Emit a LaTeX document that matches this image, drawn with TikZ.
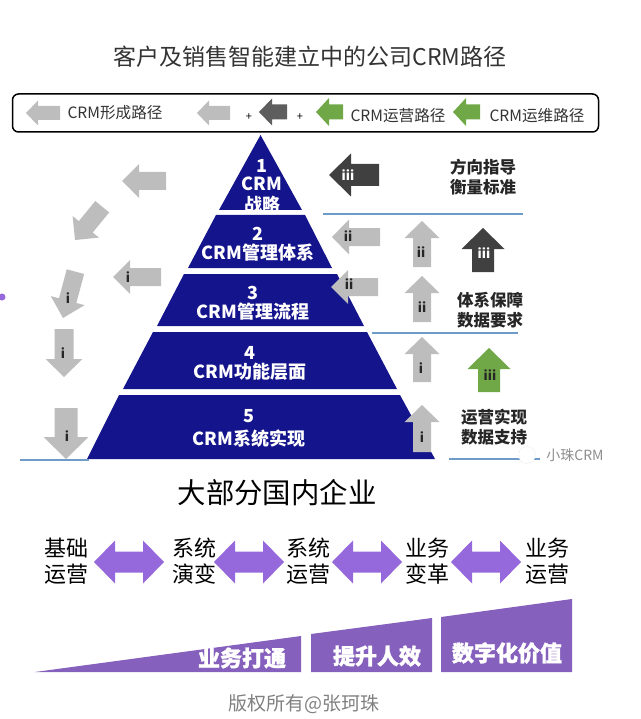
\documentclass[tikz,border=0pt]{standalone}
\usepackage{fontspec}
\setmainfont{Noto Sans CJK SC}
\usetikzlibrary{positioning}
\definecolor{navytier}{HTML}{14148C}
\definecolor{arrgray}{HTML}{BDBDBD}
\definecolor{arrdark}{HTML}{404040}
\definecolor{arrmid}{HTML}{5E5E5E}
\definecolor{arrgreen}{HTML}{70A848}
\definecolor{linkblue}{HTML}{6F9BC8}
\definecolor{violet1}{HTML}{9568DC}
\definecolor{violet2}{HTML}{8560BC}
\tikzset{
  tier/.style={fill=navytier},
  tiertext/.style={text=white,font=\fontsize{18}{18}\selectfont\bfseries,align=center,inner sep=0pt},
  pics/blockarr/.style args={#1,#2,#3,#4}{
    code={
      \path [pic actions] (0,0) -- (#4,{#2/2}) -- (#4,{#3/2}) -- (#1,{#3/2})
        -- (#1,{-#3/2}) -- (#4,{-#3/2}) -- (#4,{-#2/2}) -- cycle;
    }
  },
  pics/dblarr/.style={
    code={
      \path [pic actions] (-35,0) -- (-14,-21.5) -- (-14,-10.5) -- (14,-10.5) -- (14,-21.5) -- (35,0)
        -- (14,21.5) -- (14,10.5) -- (-14,10.5) -- (-14,21.5) -- cycle;
    }
  },
  grayarr/.style={fill=arrgray},
  darkarr/.style={fill=arrdark},
  midarr/.style={fill=arrmid},
  greenarr/.style={fill=arrgreen},
  arrtext/.style={inner sep=0pt,text=black!85,font=\fontsize{13}{13}\selectfont\bfseries},
  striptext/.style={inner sep=0pt,text=black!80,font=\fontsize{15.6}{16}\selectfont},
  sidetext/.style={inner sep=0pt,align=center,text=black!85,font=\fontsize{16.5}{20}\selectfont\bfseries},
  steptext/.style={inner sep=0pt,align=center,font=\fontsize{22}{26}\selectfont},
  bartext/.style={inner sep=0pt,text=white,font=\fontsize{22}{22}\selectfont\bfseries\addfontfeature{FakeBold=1.2}},
  rule/.style={linkblue,line width=2pt},
  wedge/.style={fill=violet2}
}
\begin{document}
\begin{tikzpicture}[x=1pt,y=-1pt]
  \useasboundingbox (0,0) rectangle (640,719);

  \node [inner sep=0pt,text=black!80,font=\fontsize{23}{23}\selectfont] (title) at (310,57) {客户及销售智能建立中的公司CRM路径};
  \node [draw=black,line width=1.5pt,rounded corners=6pt,minimum width=586pt,minimum height=38pt,inner sep=0pt] (strip) at (305.5,113) {};

  \pic [grayarr] at (26,113) {blockarr={34,25,14,12}};
  \node [striptext] (s1t) at (115,113) {CRM形成路径};
  \pic [grayarr] at (197,113) {blockarr={33,25,14,12}};
  \node [inner sep=0pt,font=\fontsize{11}{11}\selectfont] (plus1) at (249,117) {+};
  \pic [midarr] at (259,112) {blockarr={28,27,15,13}};
  \node [inner sep=0pt,font=\fontsize{11}{11}\selectfont] (plus2) at (300,117) {+};
  \pic [greenarr] at (316,112) {blockarr={27,28,15,13}};
  \node [striptext] (s4t) at (398,116) {CRM运营路径};
  \pic [greenarr] at (453,112) {blockarr={27,28,15,13}};
  \node [striptext] (s5t) at (537,116) {CRM运维路径};

  % pyramid
  \fill [tier] (260.5,135) -- (302,210) -- (219,210) -- cycle;
  \fill [tier] (216,215) -- (305,215) -- (332,268) -- (188,268) -- cycle;
  \fill [tier] (184,274) -- (337,274) -- (364,326) -- (157,326) -- cycle;
  \fill [tier] (153,332) -- (367,332) -- (397,389) -- (123,389) -- cycle;
  \fill [tier] (119,395) -- (400,395) -- (435,459) -- (87,459) -- cycle;

  \node [tiertext] (t1) at (262,186) {1\\[0pt]CRM\\[3pt]战略};
  \node [tiertext] (t2) at (258,244.5) {2\\[1pt]CRM管理体系};
  \node [tiertext] (t3) at (253,303) {3\\[1pt]CRM管理流程};
  \node [tiertext] (t4) at (250,363.5) {4\\[1pt]CRM功能层面};
  \node [tiertext] (t5) at (249,428.5) {5\\[5pt]CRM系统实现};

  % left path
  \pic [grayarr] at (122,181) {blockarr={44,34,18,17}};
  \pic [grayarr,rotate=50.7] at (75,240) {blockarr={43,34,18,17}};
  \pic [grayarr] at (113,277) {blockarr={48,34,18,17}};
  \node [arrtext] (a3) at (128,277) {i};
  \pic [grayarr,rotate=75] at (63,318) {blockarr={48,35,18,18}};
  \node [arrtext] (a4) at (68,298) {i};
  \pic [grayarr,rotate=90] at (64,377) {blockarr={48,37,19,18}};
  \node [arrtext] (a5) at (63,353) {i};
  \pic [grayarr,rotate=90] at (66,459) {blockarr={51,45,23,22}};
  \node [arrtext] (a6) at (67,436) {i};
  \draw [rule] (20,460) -- (89,460);

  % right side
  \pic [darkarr] at (329,175) {blockarr={50,43,22,22}};
  \node [arrtext,text=white] (b1) at (348,175) {iii};
  \node [sidetext] (b1t) at (483,177) {方向指导\\衡量标准};
  \draw [rule] (323,214) -- (523,214);
  \pic [grayarr] at (332,237) {blockarr={48,35,18,17}};
  \node [arrtext] (b2) at (348,236) {ii};
  \pic [grayarr] at (331,287) {blockarr={47,34,18,17}};
  \node [arrtext] (b3) at (349,284) {ii};
  \pic [grayarr,rotate=-90] at (422,221) {blockarr={46,35,18,17}};
  \node [arrtext] (b4) at (421,252) {ii};
  \pic [grayarr,rotate=-90] at (422,276) {blockarr={46,35,18,17}};
  \node [arrtext] (b5) at (422,307) {ii};
  \pic [darkarr,rotate=-90] at (483,228) {blockarr={44,43,22,21}};
  \node [arrtext,text=white] (b6) at (484,253) {iii};
  \node [sidetext] (b6t) at (490,310) {体系保障\\数据要求};
  \draw [rule] (372,333) -- (518,333);
  \pic [grayarr,rotate=-90] at (422,337) {blockarr={45,35,18,17}};
  \node [arrtext] (b7) at (421,368) {i};
  \pic [greenarr,rotate=-90] at (489,348) {blockarr={44,43,22,21}};
  \node [arrtext] (b8) at (490,375) {iii};
  \pic [grayarr,rotate=-90] at (422,405) {blockarr={47,35,18,17}};
  \node [arrtext] (b9) at (422,437) {i};
  \node [sidetext] (b9t) at (494,427) {运营实现\\数据支持};
  \draw [rule] (449,459) -- (540,459);

  % watermark
  \node [circle,fill=white,draw=black!20,densely dotted,minimum size=17pt,inner sep=0pt] (wicon) at (527,455) {};
  \node [inner sep=0pt,text=black!45,font=\fontsize{14}{14}\selectfont] (wtext) at (575,455) {小珠CRM};

  \fill [violet1] (2,297) circle (3.5);

  \node [inner sep=0pt,text=black,font=\fontsize{28.4}{29}\selectfont] (headline) at (277,493) {大部分国内企业};

  \node [steptext] (p1) at (66,561) {基础\\运营};
  \node [steptext] (p2) at (194,561) {系统\\演变};
  \node [steptext] (p3) at (308,561) {系统\\运营};
  \node [steptext] (p4) at (427,561) {业务\\变革};
  \node [steptext] (p5) at (547,561) {业务\\运营};
  \pic [fill=violet1] at (129,562) {dblarr};
  \pic [fill=violet1] at (249,562) {dblarr};
  \pic [fill=violet1] at (367,562) {dblarr};
  \pic [fill=violet1] at (486,562) {dblarr};

  \fill [wedge] (35,672) -- (301,636) -- (301,672) -- cycle;
  \fill [wedge] (311,634) -- (432,618) -- (432,672) -- (311,672) -- cycle;
  \fill [wedge] (441,617) -- (572,599) -- (572,672) -- (441,672) -- cycle;
  \node [bartext] (w1) at (242,658) {业务打通};
  \node [bartext] (w2) at (377,656) {提升人效};
  \node [bartext] (w3) at (507,653) {数字化价值};

  \node [inner sep=0pt,text=black!50,font=\fontsize{19}{19}\selectfont] (copy) at (304,704) {版权所有@张珂珠};
\end{tikzpicture}
\end{document}
